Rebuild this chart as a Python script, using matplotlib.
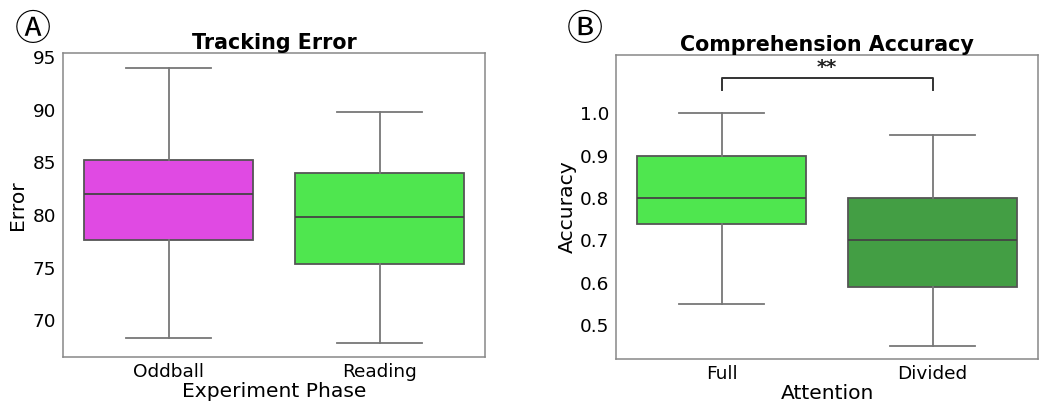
import matplotlib
matplotlib.use("Agg")
import matplotlib.pyplot as plt

# panel A: tracking error per experiment phase
phases = ["Oddball", "Reading"]
err_whislo = [68.3, 67.8]
err_q1 = [77.6, 75.3]
err_med = [82.0, 79.8]
err_q3 = [85.2, 84.0]
err_whishi = [94.0, 89.8]
err_colors = ["#e04ae3", "#4fe64f"]

# panel B: comprehension accuracy per attention condition
attention = ["Full", "Divided"]
acc_whislo = [0.55, 0.45]
acc_q1 = [0.74, 0.59]
acc_med = [0.80, 0.70]
acc_q3 = [0.90, 0.80]
acc_whishi = [1.00, 0.95]
acc_colors = ["#4fe64f", "#439e44"]
sig_label = "**"

plt.rcParams["font.family"] = ["DejaVu Sans"]
fig = plt.figure(figsize=(10.5, 4.13), dpi=100)
axA = fig.add_axes([0.060, 0.1356, 0.402, 0.7361])
axB = fig.add_axes([0.5867, 0.1308, 0.4019, 0.736])


def draw(ax, labels, lo, q1, med, q3, hi, colors):
    stats = [dict(whislo=a, q1=b, med=c, q3=d, whishi=e, fliers=[])
             for a, b, c, d, e in zip(lo, q1, med, q3, hi)]
    bp = ax.bxp(stats, positions=range(len(stats)), widths=0.8, patch_artist=True,
                showfliers=False,
                boxprops=dict(edgecolor="#555555", linewidth=1.3),
                medianprops=dict(color="#444444", linewidth=1.3),
                whiskerprops=dict(color="#777777", linewidth=1.3),
                capprops=dict(color="#777777", linewidth=1.3))
    for patch, c in zip(bp["boxes"], colors):
        patch.set_facecolor(c)
    ax.set_xticks(range(len(labels)))
    ax.set_xticklabels(labels)
    ax.set_xlim(-0.5, len(labels) - 0.5)
    ax.tick_params(length=0, labelsize=13.3)
    ax.tick_params(axis="x", pad=4)
    ax.tick_params(axis="y", pad=5)
    for s in ax.spines.values():
        s.set_color("#888888")
        s.set_linewidth(1.1)


draw(axA, phases, err_whislo, err_q1, err_med, err_q3, err_whishi, err_colors)
axA.set_ylim(66.5, 95.4)
axA.set_yticks([70, 75, 80, 85, 90, 95])
axA.set_title("Tracking Error", fontsize=14.9, fontweight="bold", pad=2)
axA.set_xlabel("Experiment Phase", fontsize=14.6, labelpad=1)
axA.set_ylabel("Error", fontsize=14.6, labelpad=4)

draw(axB, attention, acc_whislo, acc_q1, acc_med, acc_q3, acc_whishi, acc_colors)
axB.set_ylim(0.42, 1.138)
axB.set_yticks([0.5, 0.6, 0.7, 0.8, 0.9, 1.0])
axB.set_title("Comprehension Accuracy", fontsize=14.9, fontweight="bold", pad=1)
axB.set_xlabel("Attention", fontsize=14.6, labelpad=1)
axB.set_ylabel("Accuracy", fontsize=14.6, labelpad=2)

# significance bracket
axB.plot([0, 0, 1, 1], [1.056, 1.084, 1.084, 1.056], color="#333333", lw=1.4)
axB.text(0.5, 1.086, sig_label, ha="center", va="bottom", fontsize=14,
         fontweight="bold", color="#222222")

circ_fam = ["Noto Sans CJK SC", "DejaVu Sans"]
fig.text(0.0314, 0.928, "\u24b6", fontsize=26, ha="center", va="center", family=circ_fam)
fig.text(0.557, 0.928, "\u24b7", fontsize=26, ha="center", va="center", family=circ_fam)

fig.savefig("out.png", dpi=100)
